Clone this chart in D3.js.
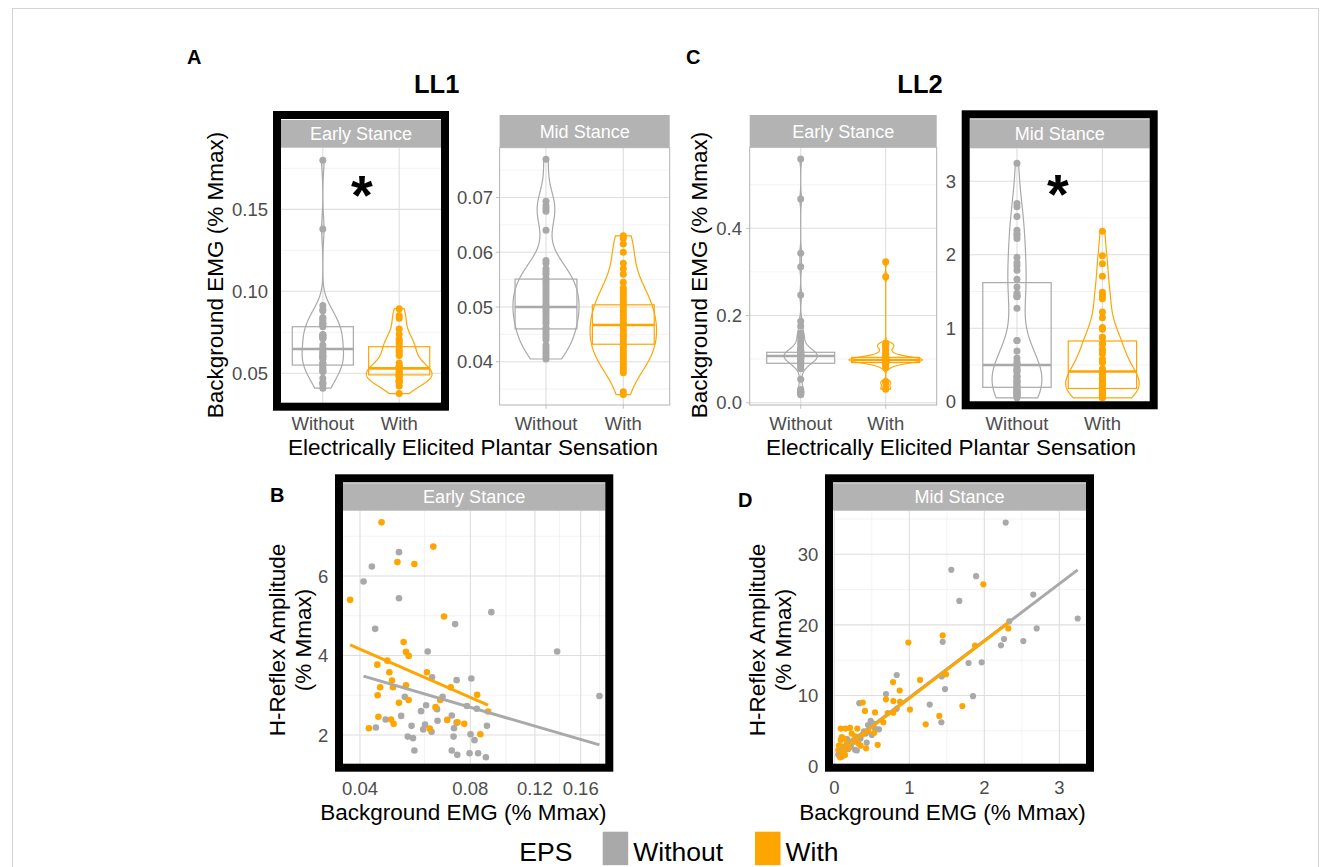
<!DOCTYPE html>
<html>
<head>
<meta charset="utf-8">
<script src="https://cdn.jsdelivr.net/npm/d3@7"></script>
<style>
  body { margin: 0; background: #fff; }
  text { font-family: "Liberation Sans", Arial, sans-serif; }
</style>
</head>
<body>
<svg id="fig" width="1331" height="867"></svg>
<script>

// ---- data ----
let groups = ["Without", "With"];
let group_colors = ["#A9A9A9", "#FFA500"];

// LL1 early stance (panel A left + panel B): background EMG and H-reflex, % Mmax
let ll1_early_without_emg = [0.0409, 0.0431, 0.0511, 0.0511, 0.0440, 0.0727, 0.0913, 0.138, 0.180, 0.0612,
  0.0629, 0.0734, 0.0805, 0.0672, 0.0606, 0.0587, 0.0649, 0.0712, 0.0783, 0.0833, 0.0651, 0.0602, 0.0595,
  0.0627, 0.0722, 0.0734, 0.0553, 0.0540, 0.0558, 0.0563, 0.0518, 0.0530, 0.0470, 0.0442, 0.0720, 0.0712,
  0.0737, 0.0796, 0.0821, 0.0801, 0.0840, 0.0882, 0.0888];
let ll1_early_without_h = [5.86, 6.24, 6.60, 5.44, 4.67, 4.79, 5.09, 4.10, 2.98, 4.10,
  3.45, 3.38, 3.42, 2.96, 2.75, 2.60, 2.65, 2.49, 2.73, 2.66, 2.36, 2.26, 2.14,
  2.08, 2.17, 2.31, 2.23, 1.96, 1.92, 1.61, 2.48, 2.96, 2.39, 2.19, 1.96, 1.61,
  1.50, 1.54, 1.87, 2.02, 1.54, 1.44, 2.23];
let ll1_early_with_emg = [0.0458, 0.0634, 0.0506, 0.0563, 0.0376, 0.0678, 0.0526, 0.0534, 0.0543, 0.0475,
  0.0446, 0.0481, 0.0609, 0.0489, 0.0492, 0.0454, 0.0534, 0.0707, 0.0835, 0.0447, 0.0543, 0.0511, 0.0662,
  0.0643, 0.0894, 0.0449, 0.0486, 0.0494, 0.0692, 0.0738, 0.0770, 0.0423, 0.0620, 0.0852];
let ll1_early_with_h = [7.35, 6.74, 6.35, 6.30, 5.40, 4.98, 4.34, 4.09, 3.99, 3.87,
  3.77, 3.58, 3.58, 3.37, 3.20, 3.20, 3.25, 3.20, 3.01, 3.00, 2.88, 2.81, 2.88,
  2.70, 2.59, 2.46, 2.39, 2.28, 2.38, 2.32, 2.28, 2.17, 2.16, 2.02];

// LL1 mid stance (panel A right)
let ll1_mid_without_emg = [0.0405, 0.041, 0.0415, 0.042, 0.0425, 0.043, 0.044, 0.0445, 0.045, 0.0455, 0.046,
  0.0462, 0.047, 0.0475, 0.048, 0.0485, 0.049, 0.0495, 0.050, 0.050, 0.0505, 0.051, 0.0515, 0.052, 0.0525,
  0.053, 0.0535, 0.054, 0.0545, 0.055, 0.0552, 0.056, 0.0565, 0.057, 0.058, 0.0585, 0.064, 0.0675, 0.068,
  0.0685, 0.0693, 0.077];
let ll1_mid_with_emg = [0.034, 0.0345, 0.038, 0.0385, 0.039, 0.0395, 0.040, 0.0405, 0.041, 0.0415, 0.042,
  0.0425, 0.043, 0.0432, 0.0438, 0.0442, 0.0447, 0.045, 0.0455, 0.046, 0.0465, 0.0468, 0.047, 0.0475, 0.048,
  0.0485, 0.049, 0.0495, 0.050, 0.0505, 0.051, 0.0515, 0.052, 0.0525, 0.053, 0.0535, 0.0545, 0.056, 0.057,
  0.058, 0.060, 0.0615, 0.0625, 0.063];

// LL2 early stance (panel C left)
let ll2_early_without_emg = [0.018, 0.021, 0.025, 0.03, 0.054, 0.078, 0.083, 0.087, 0.09, 0.092, 0.094, 0.096,
  0.098, 0.1, 0.101, 0.102, 0.104, 0.105, 0.106, 0.107, 0.108, 0.109, 0.11, 0.111, 0.112, 0.113, 0.114,
  0.115, 0.116, 0.118, 0.12, 0.124, 0.128, 0.135, 0.142, 0.15, 0.155, 0.16, 0.176, 0.187, 0.247, 0.312,
  0.343, 0.467, 0.559];
let ll2_early_with_emg = [0.031, 0.034, 0.045, 0.048, 0.08, 0.086, 0.089, 0.091, 0.092, 0.093, 0.094, 0.095,
  0.096, 0.097, 0.097, 0.098, 0.098, 0.099, 0.1, 0.1, 0.101, 0.102, 0.103, 0.104, 0.105, 0.107, 0.11, 0.114,
  0.12, 0.126, 0.13, 0.133, 0.136, 0.289, 0.323];

// LL2 mid stance (panel C right + panel D)
let ll2_mid_without_emg = [2.285, 1.56, 1.89, 1.667, 2.653, 3.245, 2.698, 2.333, 2.263, 2.222, 2.52, 1.445,
  1.79, 1.965, 1.432, 1.476, 1.849, 1.272, 1.427, 0.832, 0.689, 0.333, 0.832, 0.485, 0.543, 0.596, 0.396,
  0.343, 0.276, 0.432, 0.209, 0.156, 0.276, 0.076, 0.053, 0.129, 0.173, 0.10, 0.22, 0.30, 0.12,
  0.08, 0.11, 0.14, 0.18, 0.19, 0.25, 0.35, 0.42, 0.45, 0.50, 0.52];
let ll2_mid_without_h = [34.5, 27.8, 26.9, 23.4, 24.3, 20.9, 19.5, 20.5, 18.0, 17.1, 17.7, 17.6,
  14.6, 14.7, 12.7, 10.9, 9.9, 8.7, 6.2, 12.9, 10.2, 8.9, 8.1, 6.4, 5.3, 5.2, 4.9,
  4.2, 3.7, 3.3, 3.0, 2.5, 2.3, 2.0, 1.6, 1.8, 3.8, 1.3, 2.8, 2.2, 2.3,
  1.9, 2.6, 2.2, 3.1, 2.4, 3.4, 3.9, 4.6, 5.8, 4.4, 6.0];
let ll2_mid_with_emg = [1.987, 1.445, 2.32, 0.987, 1.876, 1.489, 1.143, 0.783, 0.872, 0.689, 0.787, 0.876,
  0.379, 1.009, 1.707, 0.409, 0.543, 0.712, 0.787, 1.40, 0.653, 1.219, 0.085, 0.147, 0.307, 0.209, 0.533,
  0.232, 0.085, 0.32, 0.579, 0.423, 0.098, 0.165, 0.143, 0.076, 0.053,
  0.06, 0.10, 0.12, 0.13, 0.19, 0.25, 0.28, 0.35, 0.38, 0.45];
let ll2_mid_with_h = [25.75, 18.5, 19.5, 17.5, 17.05, 13.0, 12.2, 11.9, 10.7, 9.45, 9.2, 9.1,
  9.0, 8.0, 8.5, 7.8, 7.6, 7.5, 7.55, 7.1, 6.2, 5.9, 5.3, 5.3, 5.3, 5.4, 4.7,
  4.6, 3.7, 3.2, 3.0, 2.5, 2.8, 3.2, 1.55, 1.23, 2.27,
  2.9, 4.1, 2.0, 3.9, 2.6, 3.6, 4.2, 2.9, 4.5, 5.0];

// boxplot stats [q1, median, q3] for Without / With
let box_ll1_early = [[0.055, 0.0648, 0.0784], [0.049, 0.053, 0.0662]];
let box_ll1_mid = [[0.046, 0.050, 0.0551], [0.0432, 0.0467, 0.0504]];
let box_ll2_early = [[0.0904, 0.107, 0.1156], [0.092, 0.098, 0.104]];
let box_ll2_mid = [[0.196, 0.50, 1.62], [0.18, 0.41, 0.826]];

// fitted regression lines, [[x start, y start], [x end, y end]]
let fit_b_without = [[0.0409, 3.48], [0.180, 1.75]];
let fit_b_with = [[0.0376, 4.27], [0.0894, 2.75]];
let fit_d_without = [[0.053, 2.08], [3.245, 27.8]];
let fit_d_with = [[0.053, 1.9], [2.32, 20.3]];

// axis ticks
let ticks_a_early = [0.05, 0.10, 0.15];
let ticks_a_mid = [0.04, 0.05, 0.06, 0.07];
let ticks_c_early = [0.0, 0.2, 0.4];
let ticks_c_mid = [0, 1, 2, 3];
let ticks_b_x = [0.04, 0.08, 0.12, 0.16];
let ticks_b_y = [2, 4, 6];
let ticks_d_x = [0, 1, 2, 3];
let ticks_d_y = [0, 10, 20, 30];

// ---- drawing ----
let svg = d3.select('#fig');
let tick_col = '#4D4D4D';
let violin_width = 0.86;
let box_width = 0.8;

// thin figure border
svg.append('rect').attr('x', 12.5).attr('y', 8.5).attr('width', 1306).attr('height', 900)
  .attr('fill', 'none').attr('stroke', '#d4d4d4').attr('stroke-width', 1);

function nrd0(v) {
  let s = v.slice().sort(d3.ascending);
  let sd = d3.deviation(s);
  let iqr = d3.quantile(s, 0.75) - d3.quantile(s, 0.25);
  let lo = Math.min(sd, iqr / 1.34);
  if (!(lo > 0)) lo = sd || 1;
  return 0.9 * lo * Math.pow(s.length, -0.2);
}

function kde(v, bw) {
  let lo = d3.min(v), hi = d3.max(v);
  return d3.range(512).map(i => {
    let y = lo + (hi - lo) * i / 511;
    let s = 0;
    v.forEach(x => { let z = (y - x) / bw; s += Math.exp(-0.5 * z * z); });
    return [y, s / (v.length * bw * Math.sqrt(2 * Math.PI))];
  });
}

function minors(major, step, lo, hi) {
  let out = [];
  let first = major[0] - step / 2;
  for (let v = first; v <= hi + 1e-9; v += step) if (v >= lo) out.push(v);
  return out.filter(v => major.every(m => Math.abs(m - v) > step / 10));
}

function panel(f) {
  let [x0, y0, x1, y1] = f.box;
  let g = svg.append('g');
  let clipId = 'clip-' + f.id;
  svg.append('clipPath').attr('id', clipId).append('rect')
    .attr('x', x0).attr('y', y0).attr('width', x1 - x0).attr('height', y1 - y0);
  g.append('rect').attr('x', x0).attr('y', y0).attr('width', x1 - x0).attr('height', y1 - y0).attr('fill', '#fff');
  let inner = g.append('g').attr('clip-path', `url(#${clipId})`);
  return {g, inner};
}

function gridLines(inner, f, xs, ys, xMaj, xMin, yMaj, yMin) {
  let [x0, y0, x1, y1] = f.box;
  yMin.forEach(v => inner.append('line').attr('x1', x0).attr('x2', x1).attr('y1', ys(v)).attr('y2', ys(v))
    .attr('stroke', '#EBEBEB').attr('stroke-width', 0.6));
  xMin.forEach(v => inner.append('line').attr('y1', y0).attr('y2', y1).attr('x1', xs(v)).attr('x2', xs(v))
    .attr('stroke', '#EBEBEB').attr('stroke-width', 0.6));
  yMaj.forEach(v => inner.append('line').attr('x1', x0).attr('x2', x1).attr('y1', ys(v)).attr('y2', ys(v))
    .attr('stroke', '#DEDEDE').attr('stroke-width', 1.1));
  xMaj.forEach(v => inner.append('line').attr('y1', y0).attr('y2', y1).attr('x1', xs(v)).attr('x2', xs(v))
    .attr('stroke', '#DEDEDE').attr('stroke-width', 1.1));
}

function strip(f) {
  let [sx0, sy0, sx1, sy1] = f.strip;
  svg.append('rect').attr('x', sx0).attr('y', sy0).attr('width', sx1 - sx0).attr('height', sy1 - sy0).attr('fill', '#B3B3B3');
  svg.append('text').attr('x', (sx0 + sx1) / 2).attr('y', (sy0 + sy1) / 2).attr('dy', '0.36em')
    .attr('text-anchor', 'middle').attr('fill', '#fff').style('font-size', '18px').text(f.title);
}

function frameOrBorder(f, xs, ys, xTicks, yTicks) {
  let [x0, y0, x1, y1] = f.box;
  if (f.framed) {
    svg.append('rect').attr('x', x0).attr('y', f.strip[1] - 5).attr('width', x1 - x0).attr('height', y1 - f.strip[1] + 5)
      .attr('fill', 'none').attr('stroke', '#000').attr('stroke-width', 8);
  } else {
    svg.append('rect').attr('x', x0).attr('y', y0).attr('width', x1 - x0).attr('height', y1 - y0)
      .attr('fill', 'none').attr('stroke', '#B3B3B3').attr('stroke-width', 1);
    yTicks.forEach(v => svg.append('line').attr('x1', x0 - 3.7).attr('x2', x0).attr('y1', ys(v)).attr('y2', ys(v))
      .attr('stroke', '#B3B3B3').attr('stroke-width', 0.8));
    xTicks.forEach(v => svg.append('line').attr('y1', y1).attr('y2', y1 + 3.7).attr('x1', xs(v)).attr('x2', xs(v))
      .attr('stroke', '#B3B3B3').attr('stroke-width', 0.8));
  }
}

function tickLabels(f, xs, ys, xTicks, yTicks, xFmt, yFmt) {
  yTicks.forEach(v => svg.append('text').attr('x', f.ylab_x).attr('y', ys(v)).attr('dy', '0.36em')
    .attr('text-anchor', 'end').attr('fill', tick_col).style('font-size', '18.5px').text(yFmt(v)));
  xTicks.forEach(v => svg.append('text').attr('x', xs(v)).attr('y', f.xlab_y)
    .attr('text-anchor', 'middle').attr('fill', tick_col).style('font-size', '18.5px').text(xFmt(v)));
}

// violin facets (top row)
let violin_facets = [
  {id: 'a1', title: 'Early Stance', framed: true, box: [277, 147.7, 445, 406.7], strip: [281, 120, 441, 147.7],
   ydom: [0.0296, 0.1876], vals: [ll1_early_without_emg, ll1_early_with_emg], stats: box_ll1_early,
   ticks: ticks_a_early, minorStep: 0.05, fmt: d3.format('.2f'), ylab_x: 268, xlab_y: 430},
  {id: 'a2', title: 'Mid Stance', framed: false, box: [499.6, 147.7, 669.7, 405], strip: [499.6, 115, 669.7, 147.7],
   ydom: [0.0321, 0.0791], vals: [ll1_mid_without_emg, ll1_mid_with_emg], stats: box_ll1_mid,
   ticks: ticks_a_mid, minorStep: 0.01, fmt: d3.format('.2f'), ylab_x: 493, xlab_y: 430},
  {id: 'c1', title: 'Early Stance', framed: false, box: [749.7, 147.3, 936.7, 405], strip: [749.7, 115, 936.7, 147.3],
   ydom: [-0.0053, 0.5858], vals: [ll2_early_without_emg, ll2_early_with_emg], stats: box_ll2_early,
   ticks: ticks_c_early, minorStep: 0.2, fmt: d3.format('.1f'), ylab_x: 742, xlab_y: 430},
  {id: 'c2', title: 'Mid Stance', framed: true, box: [965.7, 148.3, 1153.7, 405.3], strip: [969.7, 119.3, 1149.7, 148.3],
   ydom: [-0.049, 3.448], vals: [ll2_mid_without_emg, ll2_mid_with_emg], stats: box_ll2_mid,
   ticks: ticks_c_mid, minorStep: 1, fmt: d3.format('d'), ylab_x: 956, xlab_y: 430}
];

violin_facets.forEach(f => {
  let [x0, y0, x1, y1] = f.box;
  let xs = d3.scalePoint().domain(groups).range([x0, x1]).padding(0.6);
  let ys = d3.scaleLinear().domain(f.ydom).range([y1, y0]);
  let unit = xs.step();
  let {inner} = panel(f);
  gridLines(inner, f, xs, ys, groups, [], f.ticks, minors(f.ticks, f.minorStep, f.ydom[0], f.ydom[1]));

  let dens = f.vals.map(v => kde(v, nrd0(v)));
  let maxD = d3.max(dens, dd => d3.max(dd, d => d[1]));
  dens.forEach((dd, i) => {
    let cx = xs(groups[i]);
    let half = d => d[1] / maxD * violin_width / 2 * unit;
    let area = d3.area().y(d => ys(d[0])).x0(d => cx - half(d)).x1(d => cx + half(d));
    inner.append('path').attr('d', area(dd)).attr('fill', 'none')
      .attr('stroke', group_colors[i]).attr('stroke-width', 1.2);
  });
  f.stats.forEach((s, i) => {
    let cx = xs(groups[i]);
    inner.append('rect').attr('x', cx - box_width / 2 * unit).attr('width', box_width * unit)
      .attr('y', ys(s[2])).attr('height', ys(s[0]) - ys(s[2]))
      .attr('fill', 'none').attr('stroke', group_colors[i]).attr('stroke-width', 1.2);
    inner.append('line').attr('x1', cx - box_width / 2 * unit).attr('x2', cx + box_width / 2 * unit)
      .attr('y1', ys(s[1])).attr('y2', ys(s[1])).attr('stroke', group_colors[i]).attr('stroke-width', 2.6);
  });
  f.vals.forEach((v, i) => {
    inner.selectAll(null).data(v).join('circle')
      .attr('cx', xs(groups[i])).attr('cy', d => ys(d)).attr('r', 3.5).attr('fill', group_colors[i]);
  });

  strip(f);
  frameOrBorder(f, xs, ys, groups, f.ticks);
  tickLabels(f, xs, ys, groups, f.ticks, d => d, f.fmt);
});

// scatter facets (bottom row)
let scatter_facets = [
  {id: 'b', title: 'Early Stance', framed: true, box: [339, 510.7, 609.3, 767.7], strip: [343, 483.3, 605.3, 510.7],
   xs: d3.scaleLog().domain([0.03506, 0.1915]).range([339, 609.3]),
   ys: d3.scaleLinear().domain([1.177, 7.643]).range([767.7, 510.7]),
   xTicks: ticks_b_x, xMinor: [0.06, 0.10, 0.14, 0.18], yTicks: ticks_b_y, yMinor: [3, 5, 7],
   pts: [[ll1_early_without_emg, ll1_early_without_h], [ll1_early_with_emg, ll1_early_with_h]],
   fits: [fit_b_without, fit_b_with], xFmt: d3.format('.2f'), yFmt: d3.format('d'), r: 3.3,
   ylab_x: 328.3, xlab_y: 795},
  {id: 'd', title: 'Mid Stance', framed: true, box: [829, 510.7, 1090, 767.7], strip: [833, 483.3, 1086, 510.7],
   xs: d3.scaleLinear().domain([-0.0707, 3.409]).range([829, 1090]),
   ys: d3.scaleLinear().domain([-0.24, 36.18]).range([767.7, 510.7]),
   xTicks: ticks_d_x, xMinor: [0.5, 1.5, 2.5], yTicks: ticks_d_y, yMinor: [5, 15, 25, 35],
   pts: [[ll2_mid_without_emg, ll2_mid_without_h], [ll2_mid_with_emg, ll2_mid_with_h]],
   fits: [fit_d_without, fit_d_with], xFmt: d3.format('d'), yFmt: d3.format('d'), r: 3.1,
   ylab_x: 818.3, xlab_y: 794}
];

scatter_facets.forEach(f => {
  let xs = f.xs, ys = f.ys;
  let {inner} = panel(f);
  gridLines(inner, f, xs, ys, f.xTicks, f.xMinor, f.yTicks, f.yMinor);
  f.pts.forEach((p, i) => {
    inner.selectAll(null).data(d3.zip(p[0], p[1])).join('circle')
      .attr('cx', d => xs(d[0])).attr('cy', d => ys(d[1])).attr('r', f.r).attr('fill', group_colors[i]);
  });
  let line = d3.line().x(d => xs(d[0])).y(d => ys(d[1]));
  f.fits.forEach((fit, i) => {
    inner.append('path').attr('d', line(fit)).attr('fill', 'none')
      .attr('stroke', group_colors[i]).attr('stroke-width', 3);
  });
  strip(f);
  frameOrBorder(f, xs, ys, f.xTicks, f.yTicks);
  tickLabels(f, xs, ys, f.xTicks, f.yTicks, f.xFmt, f.yFmt);
});

// ---- titles and labels ----
function label(x, y, txt, size, opts = {}) {
  let t = svg.append('text').attr('x', x).attr('y', y).style('font-size', size + 'px')
    .attr('text-anchor', opts.anchor || 'start').attr('fill', '#000').text(txt);
  if (opts.bold) t.style('font-weight', 'bold');
  if (opts.rotate) t.attr('transform', `rotate(-90,${x},${y})`);
  return t;
}

label(187, 64, 'A', 20, {bold: true});
label(686, 64, 'C', 20, {bold: true});
label(270, 502, 'B', 20, {bold: true});
label(738, 507, 'D', 20, {bold: true});
label(436.7, 93.3, 'LL1', 25.5, {bold: true, anchor: 'middle'});
label(920, 93.3, 'LL2', 25.5, {bold: true, anchor: 'middle'});

label(473, 455, 'Electrically Elicited Plantar Sensation', 22.5, {anchor: 'middle'});
label(951, 455, 'Electrically Elicited Plantar Sensation', 22.5, {anchor: 'middle'});
label(223, 275, 'Background EMG (% Mmax)', 22.5, {anchor: 'middle', rotate: true});
label(706.5, 275, 'Background EMG (% Mmax)', 22.5, {anchor: 'middle', rotate: true});

label(463.3, 820, 'Background EMG (% Mmax)', 22.5, {anchor: 'middle'});
label(942.5, 820, 'Background EMG (% Mmax)', 22.5, {anchor: 'middle'});
label(285, 640, 'H-Reflex Amplitude', 22.5, {anchor: 'middle', rotate: true});
label(311, 640, '(% Mmax)', 22.5, {anchor: 'middle', rotate: true});
label(765, 640, 'H-Reflex Amplitude', 22.5, {anchor: 'middle', rotate: true});
label(791, 640, '(% Mmax)', 22.5, {anchor: 'middle', rotate: true});

// significance marks
label(362, 214, '*', 56, {bold: true, anchor: 'middle'});
label(1058, 213, '*', 56, {bold: true, anchor: 'middle'});

// ---- legend ----
let legend_x = [602.7, 755];
label(519.3, 861, 'EPS', 26.5);
groups.forEach((gname, i) => {
  svg.append('rect').attr('x', legend_x[i]).attr('y', 831.7).attr('width', 25.5).attr('height', 33.5)
    .attr('fill', group_colors[i]);
  label(legend_x[i] + 30.6, 861, gname, 26.5);
});

</script>
</body>
</html>
